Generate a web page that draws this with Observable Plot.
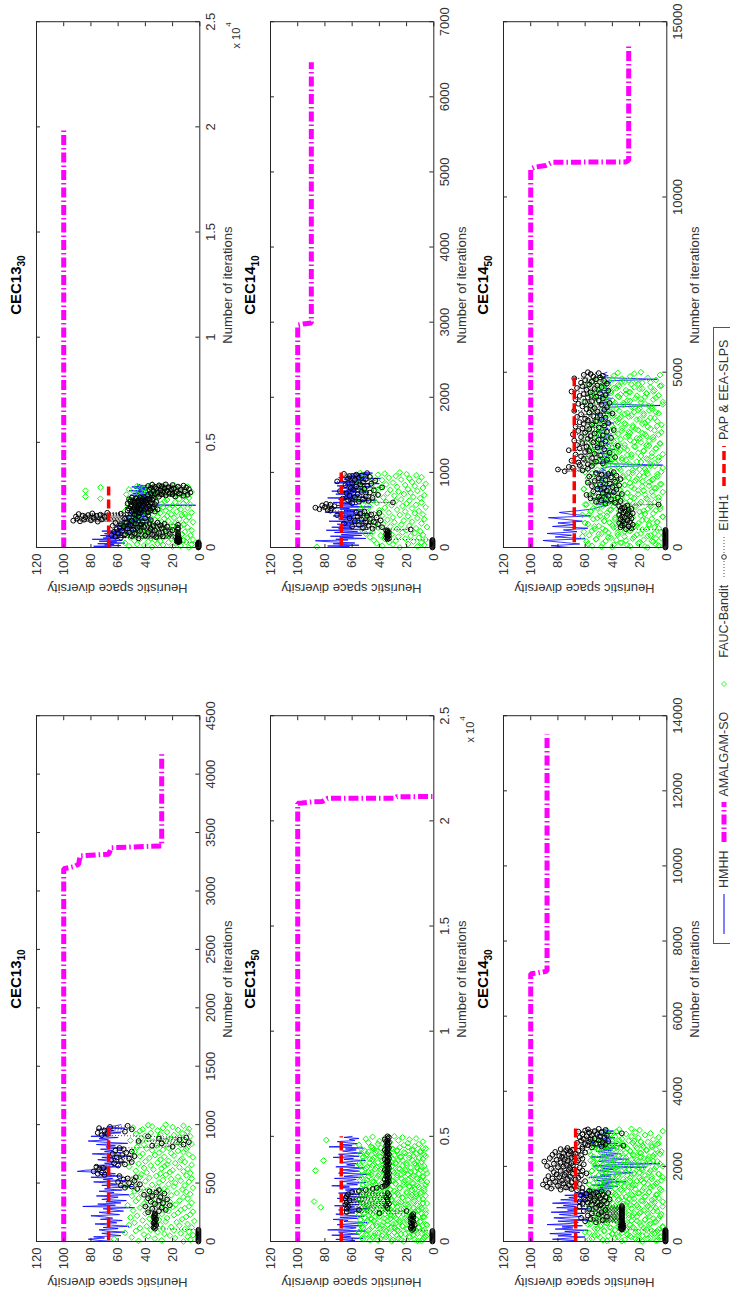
<!DOCTYPE html>
<html><head><meta charset="utf-8">
<script src="https://cdn.jsdelivr.net/npm/d3@7"></script>
<script src="https://cdn.jsdelivr.net/npm/@observablehq/plot@0.6"></script>
<style>
html,body{margin:0;padding:0;background:#fff;}
body{width:730px;height:1292px;overflow:hidden;position:relative;font-family:"Liberation Sans",Arial,sans-serif;}
#fig{position:absolute;left:0;top:0;width:1292px;height:730px;transform-origin:0 0;transform:translate(0px,1292px) rotate(-90deg);background:#fff;}
.abs{position:absolute;white-space:nowrap;color:#333;}
.ttl{font-weight:bold;font-size:15px;line-height:15px;text-align:center;color:#000;}
.xl{font-size:13px;line-height:13px;text-align:center;}
.yl{font-size:13px;line-height:13px;text-align:center;transform:rotate(-90deg);}
.ex{font-size:11px;line-height:11px;text-align:right;}
#legend{position:absolute;border:1px solid #555;background:#fff;display:flex;align-items:center;font-size:12.5px;color:#333;box-sizing:border-box;}
#legend svg{display:block;}
</style></head><body><div id="fig"></div>
<script>
// ---------- shared ticks ----------
const yTicks = [0,20,40,60,80,100,120];
const xt1310 = [0,500,1000,1500,2000,2500,3000,3500,4000,4500];
const xt1330 = [0,5000,10000,15000,20000,25000];
const xt1350 = [0,5000,10000,15000,20000,25000];
const xt1410 = [0,1000,2000,3000,4000,5000,6000,7000];
const xt1430 = [0,2000,4000,6000,8000,10000,12000,14000];
const xt1450 = [0,5000,10000,15000];

// ---------- CEC13_10 (iterations 0..1000) ----------
const h1310 = [62,75,82,70,78,58,66,72,55,69, 74,60,71,52,65,77,61,68,57,73, 64,70,80,59,67,74,56,63,71,48, 86,62,75,58,69,54,72,66,60,76, 52,68,63,74,57,70,65,49,72,61, 67,78,55,71,64,80,58,73,62,69, 90,84,66,74,59,77,63,70,55,68, 75,61,72,50,66,79,58,70,64,73, 56,69,62,76,53,71,82,67,74,60, 80,65,72,58,70,63,76,55,68,62, 58];
const f1310 = [12,45,28,7,63,33,18,50,9,38, 22,5,41,26,14,55,31,8,47,19, 36,11,27,44,6,21,39,15,52,29, 9,34,48,17,25,4,42,30,13,37, 24,51,10,32,46,19,7,28,40,16, 35,5,23,49,14,38,26,11,44,20, 8,31,53,18,27,41,6,34,22,47, 15,39,25,9,45,29,12,36,50,21, 33,7,43,17,28,10,48,24,38,13, 26,42,5,31,19,54,11,35,23,46, 18,30,8,40,14,27,49,21,6,37, 44,16,32,10,25,43,29,7,39,22, 12,47,20,34,9,28,41,15,52,26, 36,6,24,45,18,31,11,40,23,14, 29,50,13,37,5,26,44,19,33,8, 42,21,30,12,48,16,35,27,10,39, 23,9,46,20,32,14,41,6,28,45, 17,34,25,51,11,38,22,43,15,30, 7,40,19,29,47,13,36,24,9,44, 31,16,42,8,27,49,20,35,12,38, 25];
const e1310 = [1,1,1,1,1,1,1,1,1,1,1, 33,34,33,32,33,34,33,33,32,33,34,33,33,33, 38,30,25,35,28,40,22,33,27,36,30,24,38,29,35,41,26,32,37,30, 46,55,50,58,44,52,60,48,56,53,47,59, 70,75,72,78,68,74,71,76, 60,55,63,50,58,65,52,61,48,57,64,54,50,62,56,59, 20,35,12,28,8,45,15,30,10,38, 72,68,75,55,70,50,74,66,53];
const a1310 = [[0,100],[3190,100],[3210,92],[3230,89],[3300,88],[3314,67],[3370,65],[3386,28],[4170,28]];
const p1310 = [[10,67],[980,67]];

// ---------- CEC13_30 (iterations 0..3000) ----------
const h1330 = [72,65,78,58,70,63,75,55,68,61, 74,57,66,79,60,71,54,69,62,73, 56,64,70,52,67,59,72,48,63,55, 60,45,58,50,62,42,55,48,60,38, 52,46,57,40,50,35,54,44,48,39, 56,42,50,36,47,53,41,49,37,45, 51,38,46,55,40,48,34,3,43,47, 39,44,44,36,49,41,53,38,46,42, 35,48,40,51,37,44,49,33,47,41, 52,38,45,40,48,36,50,43,39,46, 44];
const f1330 = [8,35,20,52,14,41,27,6,46,31, 17,55,23,10,38,29,48,12,33,5, 44,21,36,9,51,26,15,40,30,7, 24,47,13,34,19,53,28,11,42,22, 37,6,45,25,16,39,32,50,9,27, 14,43,20,35,56,12,30,47,18,38, 5,28,41,23,10,49,33,15,44,26, 36,19,8,52,31,24,40,13,46,21, 11,39,29,6,48,17,35,55,25,42, 30,14,45,22,9,37,27,50,16,34, 20,53,7,41,28,12,47,32,18,43, 26,10,38,24,51,15,73,36,8,45, 33,84,19,40,13,29,54,22,11,39, 48,25,6,35,44,84,31,17,52,28, 14,41,23,73,37,9,46,30,19,26, 35];
const e1330 = [1,1,1,1,1,1,1,1,1,1,1,1,1,1,1,1,1, 16,15,16,17,16,16,15,16,17,16,15,16, 45,16,58,32,16,62,27,50,16,40, 65,35,16,55,22,48,60,30,16,52, 38,63,25,44,57,33,20,49,16,61, 36,53,28,46,16,59,41,24,56,34, 64,29,51,16,43,58,26,47,37,62, 31,54, 42,75,88,50,93,80,36,85,72,47, 90,55,40,78,52,84,70,91,45,76, 86,38,82,73,48,89,58,79,44,68, 45,38,50,33,47,41,53,36,44,49, 31,40,52,35,46,39,48,34,43,51, 37,45,42,38,47,50,33,44,41,53, 36,48,39,46,32,51,43,37,49,40, 45,35,52,42,38,47,34,50,44,41, 30,18,35,12,25,38,9,28,20,33, 15,36,22,7,31,17,27,11,34,24, 29,14,37,21,8,32,19,26,36,10, 23,33,16,28,38,12,30,20,35,25];
const a1330 = [[0,100],[19900,100]];
const p1330 = [[0,67],[3000,67]];

// ---------- CEC13_50 (iterations 0..5000) ----------
const h1350 = [66,58,72,52,69,61,75,55,64,70, 50,78,62,57,68,53,71,60,49,66, 63,74,56,69,51,65,72,58,62,54, 70,47,64,59,73,55,67,61,52,68, 57,71,49,63,66,54,70,60,58,65, 52,68,62,75,56,64,50,69,61,57, 73,53,66,59,48,70,63,55,67,60, 51,72,58,64,56,69,62,50,66,59, 74,55,63,70,53,61,67,57,65,52, 77,60,68,56,64,71,58,62,55,66, 60];
const f1350 = [22,9,41,30,14,52,26,7,45,33, 18,38,5,49,24,12,43,29,55,16, 35,8,27,47,20,39,11,31,53,23, 42,15,34,6,28,50,19,37,10,44, 25,54,13,32,46,21,7,40,29,17, 48,26,36,9,51,18,30,43,12,38, 6,33,22,45,15,83,27,10,49,35, 19,41,28,8,53,24,88,37,14,46, 31,11,39,23,50,17,34,6,44,26, 13,48,20,36,9,42,29,55,16,32, 40,7,25,47,18,35,12,52,22,43, 28,15,38,5,45,30,21,49,10,37, 24,53,16,33,8,41,27,46,19,11, 36,22,48,14,30,87,6,39,25,50, 17,42,9,34,23,54,13,44,28,20, 47,31,12,38,81,26,45,8,35,18, 52,24,40,15,29,7,49,33,21,43, 10,37,27,51,16,44,30,6,39,25, 46,14,34,22,55,11,41,19,48,32, 8,40,26,79,18,50,13,36,23,45, 29];
const f1350b = [31,12,47,24,8,39,53,18,35,6, 44,27,15,50,21,9,41,33,55,14, 26,48,7,37,19,52,29,11,45,23, 38,5,30,54,16,42,25,10,49,34, 20,46,13,36,28,51,8,43,17,32, 55,22,40,6,33,47,14,27,53,11, 39,24,50,9,35,18,44,30,12,48, 21,37,5,52,26,15,42,31,46,19, 8,34,55,23,40,13,29,51,16,38, 45,10,27,49,20,36,7,43,32,14, 53,25,41,11,47,18,34,6,39,28, 16,50,22,44,9,31,54,19,36,12, 42,27,8,48,33,15,51,24,40,5, 29,46,17,35,53,21,10,43,26,38, 12,49,31,7,45,20,37,55,14,28, 41,9,34,52,23,16,47,30,11,44, 25,39,6,50,18,33,54,13,36,22, 48,10,42,27,15,53,31,8,45,19];
const e1350 = [1,1,1,1,1,1,1,1,1,1,1, 16,15,17,16,16,14,16,17,15,16,16,17,15,16,16,15, 40,64,20,55, 64,34,63,35,65,33,64,34,62,34,65,35,64,33,63,34, 60,55,50,45,42,38,36,35, 34,35,33,34,36,34,33,35,34,34,33,35,34,36,34,33,34,35,34,33,35,34,34,36,33,34,35,34,33,34,35,34,36,34,33,34,35,34,34,33,35,34,36,34,33,34];
const a1350 = [[0,100],[20840,100],[20850,97],[20910,89],[20920,82],[21070,78],[21075,29],[21150,27],[21155,1]];
const p1350 = [[0,68],[5000,68]];

// ---------- CEC14_10 (iterations 0..1000) ----------
const h1410 = [70,62,78,55,66,74,58,69,80,87, 63,72,50,67,59,76,53,68,61,45, 73,56,65,79,48,70,60,75,52,66, 62,71,44,68,57,77,50,64,70,55, 67,59,74,47,63,72,54,80,58,66, 51,69,62,76,46,65,71,56,68,60, 74,53,63,42,70,58,78,49,66,61, 55,72,60,67,48,75,57,64,52,69, 62,46,71,58,65,40,73,55,68,50, 60,66,39,70,54,63,57,48,61,45, 52];
const f1410 = [25,86,12,38,7,30,19,42,9,33, 15,28,44,6,36,21,11,47,26,17, 39,8,31,50,14,23,45,10,35,20, 53,27,13,41,5,32,18,48,24,37, 9,43,29,16,55,22,34,7,46,12, 30,51,19,38,25,8,44,14,33,49, 21,11,40,27,54,16,36,6,47,23, 31,13,52,20,42,9,35,28,18,45, 24,56,10,37,15,48,29,7,41,22, 34,17,50,26,12,43,32,19,53,8, 39,27,14,46,21,35,6,55,30,16, 44,11,38,24,52,18,33,9,47,28, 13,41,20,36,54,25];
const e1410 = [1,1,1,1,1,1,1,1,1,1,1, 34,33,35,34,34,33,34,35,34,33,34,34,35,17, 45,52,38,60,48,55,41,66,50,44,58,39,53,47,62,42,56,49,71,46,54,40,57,51,76, 78,84,75,87,80,73,82,76,79, 60,30,55,48,63,52,67,45,58,50,62,41,56,64,47,53,69,44,59,51,61,38,57,49,65,54,46,60,52,71,43,58,50,63,55,47,62,53,57,66,49];
const a1410 = [[0,100],[2960,100],[2975,96],[2990,90],[6460,90]];
const p1410 = [[20,68],[1000,68]];

// ---------- CEC14_30 (iterations 0..3000) ----------
const h1430 = [78,66,84,72,60,80,70,86,64,75, 58,82,69,77,62,88,71,65,80,57, 74,83,63,70,79,61,85,68,73,56, 81,67,76,62,84,70,59,78,66,72, 60,75,55,68, 52,45,58,40,50,36,55,42,48,30, 53,38,46,57,41,49,35,25,44,51, 39,47,15,54,43,5,37,50,46,28, 42,56,39,48,34,45,52,40,47,37, 53,44,49,36,55,41,46,50,38,45, 43,51,40,47,39,48,44];
const f1430 = [18,44,7,31,57,23,12,49,36,4, 27,53,15,40,9,33,60,21,46,11, 38,6,29,51,17,42,25,3,35,48, 13,56,30,20,45,8,37,26,54,16, 41,10,33,50,22,5,39,28,47,14, 24,52,19,36,7,43,31,55,12,34, 46,21,3,38,27,49,15,32,58,9, 29,42,18,53,11,35,24,6,44,30, 16,50,37,8,26,47,20,40,13,55, 33,4,45,23,38,17,52,28,10,41, 25,57,14,34,48,7,31,22,46,19, 39,11,53,27,3,43,36,16,50,24, 6,35,45,20,30,55,12,41,28,49, 18,37,8,52,23,33,47,15,5,40, 29,54,21,10,44,26,38,51,17,32, 46,13,35,24,56,9,42,19,30,48, 4,27,50,15,39,34,22,53,11,43, 31,18,45,7,36,25,49,14,40,28, 52,10,33,47,21,6,38,26,55,16, 42,30,12,48,23,37,3,44,20,35, 26];
const f1430b = [33,8,47,21,55,14,38,26,5,43, 18,51,29,11,40,57,23,35,7,46, 30,15,53,24,41,3,36,49,19,27, 58,12,44,32,9,50,22,37,16,45, 6,28,54,39,13,48,25,34,4,42, 20,56,31,10,46,17,38,52,26,8, 43,35,14,57,22,30,49,11,40,24, 3,47,19,36,55,28,9,44,33,16, 51,25,41,7,38,21,53,13,45,29, 18,56,34,5,48,26,12,43,31,50, 23,39,8,54,17,36,46,27,4,42, 32,15,52,20,40,11,57,29,37,6, 47,24,13,45,33,55,18,28,9,50, 38,21,44,3,35,53,16,41,26,12, 49,31,7,56,22,39,14,46,30,19, 54,10,36,25,43,5,48,20,34,57, 27,15,42,8,51,29,37,17,45,23, 11,52,32,40,6,47,19,55,24,35];
const e1430 = [1,1,1,1,1,1,1,1,1,1,1,1,1,1,1,1,1,1,1,1,1, 33,33,34,33,32,33,33,34,33,32,33,33, 33,52,33,60,33,47,33,56,33,63,33,44,33,58,33,50,33,55,33,48,33,61,33,45,33,57,33,52,33,64,33,49, 55,48,62,44,58,51,64,46,53,60,42,57,49,61,45,56,50,63,47,54,59,43,52,62,48,57, 66,78,70,85,62,74,88,68,80,72, 91,64,76,86,70,82,60,77,89,67, 73,84,65,79,71,87,63,75,81,69, 59,74,83,66,78,62,72,68,85,71, 64,80,76,88,69,74,61,83,70,78, 66,90,73,65,81,75,62,86,70,77, 68,79,63,84,72,67,76,60,82,71, 65,74,69,78,62,73, 55,62,48,32,58,45,60,52,66,47, 57,43,63,50,56,61,53,46,64,49, 59,44,55,62,51,33,57,48,65,53, 60,45,58,50];
const a1430 = [[0,100],[7130,100],[7150,95],[7200,88],[13500,88]];
const p1430 = [[0,67],[3050,67]];

// ---------- CEC14_50 (iterations 0..5000) ----------
const h1450 = [72,85,64,78,91,60,82,70,88,66, 76,58,84,68,80,62,74,87,56,71, 79,65,54, 50,45,52,40,48,55,43,47,38,51, 44,53,41,49,46,46,50,42,47,39, 54,45,48,43,3,52,40,46,50,44, 41,49,45,38,53,47,42,45,48,44, 51,40,46,52,47,43,49,45,39,47, 50,44,44,53,41,48,42,46,5,51, 43,47,40,49,42,45,52,42,46,44, 48,41,45,7,50,43,47,44];
const f1450 = [14,48,27,6,39,58,21,33,10,45, 30,17,52,8,41,24,62,12,36,50, 19,43,4,31,55,26,15,47,37,9, 53,22,40,13,29,60,7,34,46,18, 38,11,51,25,3,44,32,57,16,28, 49,20,35,8,42,14,54,27,5,39, 23,59,12,46,30,19,41,6,52,33, 15,37,26,48,10,56,21,43,29,3, 44,17,34,61,24,9,50,38,13,31, 5,42,27,53,18,36,11,47,22,58, 32,7,45,20,39,14,55,28,4,41, 25,51,16,35,60,23,9,46,30,12, 54,38,19,43,6,33,49,15,40,26, 11,57,29,3,45,21,37,52,17,34, 48,8,31,56,24,13,42,35,5,50, 19,39,62,27,10,47,22,53,30,15, 44,6,36,18,51,28,41,9,58,23, 33,49,14,40,25,4,55,31,16,46, 7,37,52,20,43,12,34,59,26,39, 50,17,29,8,45,35,21,54,11,42, 24,57,13,38,3,48,32,19,61,27, 40,10,46,23,53,16,36,6,44,30, 15,55,28,41,9,50,20,37,47,12, 35,4,43,26,58,18,31,52,22,8, 45,33,14,49,27,39,5,56,24,36, 19];
const f1450b = [40,16,55,29,8,47,34,20,59,11, 37,52,25,4,43,31,14,57,22,48, 9,36,61,27,45,18,53,6,39,24, 50,13,33,58,21,42,7,46,30,15, 54,26,38,3,49,19,62,35,10,44, 28,56,17,41,5,32,51,23,12,47, 36,60,20,43,9,55,27,38,14,50, 24,6,45,33,57,16,40,29,53,11, 48,21,35,61,8,42,26,18,52,31, 4,46,37,13,58,23,39,10,49,28, 55,17,32,44,7,51,25,60,15,41, 34,20,47,3,36,56,12,43,27,53, 9,38,22,50,30,14,59,33,6,45, 19,48,26,40,11,54,35,17,42,29, 57,8,37,23,49,15,31,46,5,52, 24,41,13,56,34,20,44,10,38,28, 50,16,61,27,4,47,33,21,55,12, 39,25,46,7,53,30,18,43,36,58, 14,49,22,35,9,51,28,40,17,45, 31,6,57,24,42,13,48,37,20,54, 26,11,44,32,59,16,38,3,50,29, 43,19,53,8,35,47,22,56,34,15, 41,27,10,52,30,45,18,39,24,49, 5,36,58,21,46,12,33,55,28,40];
const e1450 = [1,1,1,1,1,1,1,1,1,1,1,1,1,1,1,1,1,1,1,1,1, 30,26,34,28,33,25,31,35,27,32,29,34,26,31,33,27,35,29,25,32,30,34,28,26,33,31,35,29, 6,45,38,52,34,48,41,56,36,50,43,59,33,47,39,54,44,37,51,46,40,55,35,49,42,58,38,53,45,34,50,41,57,37,48,43,52,39, 75,62,80,58,69,72,55,64, 58,47,65,52,70,44,61,55,38,63, 49,67,53,42,60,57,72,46,64,51, 59,36,66,48,62,54,45,68,50,58, 41,63,56,47,69,53,60,44,65,39, 57,62,50,67,46,55,61,43,64,52, 58,48,60,45,66,54,49,63,40,57, 51,68,46,59,53,44,62,56,48,65, 42,60,55,50,67,47,58,52,64,45, 61,49,56,70,43,59,53,66,48,62, 51,57,44,63,55,46,60,52,68,49, 54,47,61,56,50,58];
const a1450 = [[0,100],[10800,100],[10850,97],[10900,89],[10990,84],[11000,30],[11050,28],[14360,28]];
const p1450 = [[150,68],[4900,68]];

// ---------- legend ----------
const legendNames = ["HMHH","AMALGAM-SO","FAUC-Bandit","EIHH1","PAP & EEA-SLPS"];

// ---------- layout (in the unrotated 1292x730 figure) ----------
const fig = document.getElementById("fig");
const FW = 525.8, FH = 163.3;
const COLS = [50, 744];
const ROWS = [35.7, 269.7, 502.7];
const ML = 50, MR = 14, MT = 12, MB = 30;
const FONT = "'Liberation Sans', Arial, Helvetica, sans-serif";

function addDiv(cls, html, css) {
  const d = document.createElement("div");
  d.className = "abs " + cls;
  d.innerHTML = html;
  Object.assign(d.style, css);
  fig.appendChild(d);
  return d;
}

function panel(p) {
  const fl = COLS[p.col], ft = ROWS[p.row];
  const pts = (arr, step, off = 0) => arr.map((v, i) => ({x: i * step + off, y: v}));
  const pairs = arr => arr.map(([x, y]) => ({x, y}));
  const ax = "#262626";
  const green = pts(p.f, p.fs).concat(p.f2 ? pts(p.f2, p.fs, p.fs / 2) : []);
  const chart = Plot.plot({
    width: FW + ML + MR, height: FH + MT + MB,
    marginLeft: ML, marginRight: MR, marginTop: MT, marginBottom: MB,
    style: {fontFamily: FONT, fontSize: "13px", color: "#333", background: "transparent", overflow: "visible"},
    x: {domain: [0, p.xmax]},
    y: {domain: [0, 120]},
    marks: [
      Plot.line(pts(p.h, p.hs), {x: "x", y: "y", stroke: "#0000ff", strokeWidth: 0.8}),
      Plot.line(pairs(p.a), {x: "x", y: "y", stroke: "#ff00ff", strokeWidth: 5, strokeDasharray: "10,3,1.5,3", strokeLinecap: "butt", strokeLinejoin: "miter"}),
      Plot.dot(green, {x: "x", y: "y", symbol: "diamond2", r: 2.6, stroke: "#00ff00", strokeWidth: 1}),
      Plot.line(pts(p.e, p.es), {x: "x", y: "y", stroke: "#000", strokeWidth: 0.7, strokeDasharray: "1,2", strokeLinecap: "butt"}),
      Plot.dot(pts(p.e, p.es), {x: "x", y: "y", r: 2.4, stroke: "#000", strokeWidth: 1}),
      Plot.line(pairs(p.p), {x: "x", y: "y", stroke: "#ff0000", strokeWidth: 3.5, strokeDasharray: "9,4", strokeLinecap: "butt"}),
      Plot.frame({stroke: ax}),
      Plot.tickX(p.xt, {x: d => d, insetTop: FH - 4, stroke: ax}),
      Plot.tickX(p.xt, {x: d => d, insetBottom: FH - 4, stroke: ax}),
      Plot.tickY(yTicks, {y: d => d, insetRight: FW - 4, stroke: ax}),
      Plot.tickY(yTicks, {y: d => d, insetLeft: FW - 4, stroke: ax}),
      Plot.axisX({ticks: p.xt, tickSize: 0, tickPadding: 6, tickFormat: p.fmt, label: null}),
      Plot.axisY({ticks: yTicks, tickSize: 0, tickPadding: 6, label: null})
    ]
  });
  const wrap = document.createElement("div");
  wrap.style.position = "absolute";
  wrap.style.left = (fl - ML) + "px";
  wrap.style.top = (ft - MT) + "px";
  wrap.style.width = (FW + ML + MR) + "px";
  wrap.appendChild(chart);
  fig.appendChild(wrap);

  const cx = fl + FW / 2, fb = ft + FH;
  addDiv("ttl", p.title + '<span style="font-size:10px;position:relative;top:4px">' + p.sub + "</span>",
    {left: (cx - 100) + "px", top: (ft - 15 - 12.7) + "px", width: "200px"});
  addDiv("xl", "Number of iterations", {left: (cx - 100) + "px", top: (fb + 33.3 - 11) + "px", width: "200px"});
  addDiv("yl", "Heuristic space diversity", {left: (9.5 + fl - 50 - FH / 2) + "px", top: (ft + FH / 2 - 6.5) + "px", width: FH + "px"});
  if (p.exp) {
    addDiv("ex", 'x 10<span style="font-size:8px;position:relative;top:-9px;margin-left:1px">4</span>',
      {left: (fl + FW - 60) + "px", top: (fb + 41 - 9.3) + "px", width: "60px"});
  }
}

const plain = d => String(d);
const e4 = d => String(d / 1e4);

panel({col: 0, row: 0, title: "CEC13", sub: "10", xmax: 4500, xt: xt1310, fmt: plain, exp: false, h: h1310, hs: 10, f: f1310, fs: 5, e: e1310, es: 10, a: a1310, p: p1310});
panel({col: 1, row: 0, title: "CEC13", sub: "30", xmax: 25000, xt: xt1330, fmt: e4, exp: true, h: h1330, hs: 30, f: f1330, fs: 20, e: e1330, es: 15, a: a1330, p: p1330});
panel({col: 0, row: 1, title: "CEC13", sub: "50", xmax: 25000, xt: xt1350, fmt: e4, exp: true, h: h1350, hs: 50, f: f1350, f2: f1350b, fs: 25, e: e1350, es: 50, a: a1350, p: p1350});
panel({col: 1, row: 1, title: "CEC14", sub: "10", xmax: 7000, xt: xt1410, fmt: plain, exp: false, h: h1410, hs: 10, f: f1410, fs: 8, e: e1410, es: 10, a: a1410, p: p1410});
panel({col: 0, row: 2, title: "CEC14", sub: "30", xmax: 14000, xt: xt1430, fmt: plain, exp: false, h: h1430, hs: 30, f: f1430, f2: f1430b, fs: 15, e: e1430, es: 15, a: a1430, p: p1430});
panel({col: 1, row: 2, title: "CEC14", sub: "50", xmax: 15000, xt: xt1450, fmt: plain, exp: false, h: h1450, hs: 50, f: f1450, f2: f1450b, fs: 20, e: e1450, es: 25, a: a1450, p: p1450});

// legend
const lg = document.createElement("div");
lg.id = "legend";
Object.assign(lg.style, {left: "348px", top: "712.7px", width: "617px", height: "22px", paddingLeft: "9px"});
const samples = [
  '<line x1="0" y1="5" x2="40" y2="5" stroke="#0000ff" stroke-width="1"/>',
  '<line x1="0" y1="5" x2="40" y2="5" stroke="#ff00ff" stroke-width="5" stroke-dasharray="10,3,1.5,3"/>',
  '<path d="M20,2.5L22.5,5L20,7.5L17.5,5Z" fill="none" stroke="#00ff00" stroke-width="0.8"/>',
  '<line x1="0" y1="5" x2="40" y2="5" stroke="#000" stroke-width="0.7" stroke-dasharray="1,2"/><circle cx="20" cy="5" r="2.3" fill="#fff" stroke="#000" stroke-width="0.8"/>',
  '<line x1="0" y1="5" x2="40" y2="5" stroke="#ff0000" stroke-width="3.5" stroke-dasharray="9,4"/>'
];
legendNames.forEach((name, i) => {
  const s = document.createElement("span");
  s.innerHTML = '<svg width="40" height="10">' + samples[i] + "</svg>";
  s.style.marginRight = "6px";
  lg.appendChild(s);
  const t = document.createElement("span");
  t.textContent = name;
  t.style.marginRight = i < legendNames.length - 1 ? "8px" : "0";
  t.style.whiteSpace = "nowrap";
  lg.appendChild(t);
});
fig.appendChild(lg);
</script></body></html>
